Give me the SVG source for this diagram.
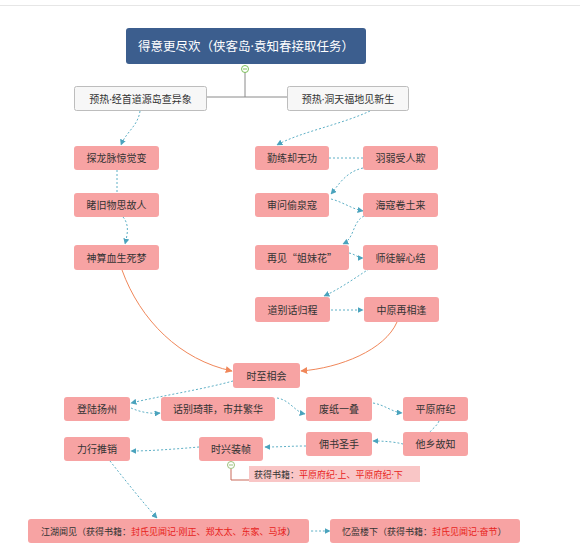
<svg xmlns="http://www.w3.org/2000/svg" width="580" height="547" viewBox="0 0 580 547">
<defs>
<style>
text{font-family:"Noto Sans","Noto Sans CJK SC","Microsoft YaHei",sans-serif;}
.cjk{font-family:"Noto Sans CJK SC","Microsoft YaHei",sans-serif;}
.pk rect{fill:#f7a3a3;}
.pk text{font-size:10px;fill:#333;text-anchor:middle;dominant-baseline:central;}
.sub rect{fill:#f7f7f7;stroke:#bdbdbd;stroke-width:1;}
.sub text{font-size:10px;fill:#333;text-anchor:middle;dominant-baseline:central;}
.dt{fill:none;stroke:#5fb0c6;stroke-width:1;stroke-dasharray:2 2;}
.dta{fill:none;stroke:#5fb0c6;stroke-width:1;stroke-dasharray:2 2;marker-end:url(#ta);}
.or{fill:none;stroke:#f0875a;stroke-width:1;marker-end:url(#oa);}
.red{fill:#e8241c;}
</style>
<marker id="ta" viewBox="0 0 10 10" refX="9" refY="5" markerWidth="6" markerHeight="6" orient="auto" markerUnits="userSpaceOnUse"><path d="M0,0 L10,5 L0,10 z" fill="#4aa3bd"/></marker>
<marker id="oa" viewBox="0 0 10 10" refX="9" refY="5" markerWidth="7" markerHeight="7" orient="auto" markerUnits="userSpaceOnUse"><path d="M0,0 L10,5 L0,10 z" fill="#f0875a"/></marker>
</defs>
<rect x="0" y="0" width="580" height="547" fill="#fff"/>
<line x1="0" y1="5.5" x2="580" y2="5.5" stroke="#e6e6e6" stroke-width="1"/>

<g id="connectors">
<path d="M245,69 V97 M207,97 H287" fill="none" stroke="#8a8a8a" stroke-width="1"/>
<path class="dta" d="M140,111 C138,126 126,132 121,145"/>
<path class="dt" d="M117,170 V193"/>
<path class="dta" d="M123,217 C130,225 127,236 125,244"/>
<path class="dta" d="M370,111 C340,125 300,132 277,145"/>
<path class="dt" d="M329,158 H363"/>
<path class="dta" d="M363,168 C345,172 338,186 331,194"/>
<path class="dta" d="M331,199 C343,202 352,209 363,211"/>
<path class="dta" d="M364,216 C352,222 355,238 343,244"/>
<path class="dta" d="M349,253 C355,254 358,258 363,258"/>
<path class="dta" d="M369,269 C355,278 338,290 324,296"/>
<path class="dta" d="M331,310 H363"/>
<path class="or" d="M397,322 C385,350 340,368 301,371"/>
<path class="or" d="M122,270 C140,320 180,360 232,371"/>
<path class="dta" d="M233,381 C200,390 160,396 131,403"/>
<path class="dta" d="M131,408 C140,412 150,414 160,413"/>
<path class="dta" d="M277,398 C290,400 295,412 305,414"/>
<path class="dta" d="M373,403 C385,405 392,412 402,413"/>
<path class="dt" d="M439,421 C437,426 432,429 430,432"/>
<path class="dta" d="M403,444 C395,442 385,441 373,441"/>
<path class="dta" d="M306,446 C292,446 280,447 265,447"/>
<path class="dta" d="M199,447 C176,449 150,451 131,451"/>
<path class="dta" d="M110,461 C125,480 145,505 157,518"/>
<path class="dta" d="M311,531 C318,531 323,531 330,531"/>
<path d="M231,469 V480 H249" fill="none" stroke="#c96a5a" stroke-width="1"/>
</g>

<g id="root">
<rect x="126" y="28" width="240" height="36" rx="3" fill="#3c5e8e"/>
<text x="246" y="46" font-size="12.5" fill="#fff" text-anchor="middle" dominant-baseline="central">得意更尽欢（侠客岛·袁知春接取任务）</text>
</g>
<g id="root-toggle">
<circle cx="245" cy="69" r="3.5" fill="#fff" stroke="#7cbf5a" stroke-width="1"/>
<line x1="243" y1="69" x2="247" y2="69" stroke="#7cbf5a" stroke-width="1"/>
</g>

<g id="sub1" class="sub"><rect x="74.5" y="86.5" width="132" height="24" rx="2"/><text x="140.5" y="98.5">预热·经首道源岛查异象</text></g>
<g id="sub2" class="sub"><rect x="287.5" y="86.5" width="121" height="24" rx="2"/><text x="348" y="98.5">预热·洞天福地见新生</text></g>

<g id="n1" class="pk"><rect x="74" y="146" width="85" height="24" rx="3"/><text x="116.5" y="158">探龙脉惊觉变</text></g>
<g id="n2" class="pk"><rect x="74" y="193" width="85" height="24" rx="3"/><text x="116.5" y="205">睹旧物思故人</text></g>
<g id="n3" class="pk"><rect x="74" y="245" width="85" height="25" rx="3"/><text x="116.5" y="257.5">神算血生死梦</text></g>

<g id="n4" class="pk"><rect x="255" y="146" width="74" height="24" rx="3"/><text x="292" y="158">勤练却无功</text></g>
<g id="n5" class="pk"><rect x="363" y="146" width="75" height="24" rx="3"/><text x="400.5" y="158">羽弱受人欺</text></g>
<g id="n6" class="pk"><rect x="255" y="193" width="74" height="24" rx="3"/><text x="292" y="205">审问偷泉寇</text></g>
<g id="n7" class="pk"><rect x="363" y="193" width="75" height="24" rx="3"/><text x="400.5" y="205">海寇卷土来</text></g>
<g id="n8" class="pk"><rect x="255" y="245" width="94" height="25" rx="3"/><text class="cjk" x="302" y="257.5">再见“姐妹花”</text></g>
<g id="n9" class="pk"><rect x="363" y="245" width="75" height="25" rx="3"/><text x="400.5" y="257.5">师徒解心结</text></g>
<g id="n10" class="pk"><rect x="255" y="297" width="75" height="25" rx="3"/><text x="292.5" y="309.5">道别话归程</text></g>
<g id="n11" class="pk"><rect x="364" y="297" width="75" height="25" rx="3"/><text x="401.5" y="309.5">中原再相逢</text></g>

<g id="n12" class="pk"><rect x="233" y="363" width="67" height="25" rx="3"/><text x="266.5" y="375.5">时至相会</text></g>

<g id="n13" class="pk"><rect x="64" y="397" width="66" height="24" rx="3"/><text x="97" y="409">登陆扬州</text></g>
<g id="n14" class="pk"><rect x="161" y="397" width="114" height="24" rx="3"/><text x="218" y="409">话别琦菲，市井繁华</text></g>
<g id="n15" class="pk"><rect x="306" y="397" width="66" height="24" rx="3"/><text x="339" y="409">废纸一叠</text></g>
<g id="n16" class="pk"><rect x="403" y="397" width="65" height="24" rx="3"/><text x="435.5" y="409">平原府纪</text></g>
<g id="n17" class="pk"><rect x="403" y="432" width="65" height="24" rx="3"/><text x="435.5" y="444">他乡故知</text></g>
<g id="n18" class="pk"><rect x="306" y="432" width="66" height="24" rx="3"/><text x="339" y="444">佣书圣手</text></g>
<g id="n19" class="pk"><rect x="199" y="437" width="64" height="24" rx="3"/><text x="231" y="449">时兴装帧</text></g>
<g id="n20" class="pk"><rect x="64" y="437" width="66" height="24" rx="3"/><text x="97" y="449">力行推销</text></g>

<g id="n19-toggle">
<circle cx="231" cy="465" r="3.5" fill="#fff" stroke="#9cc07a" stroke-width="1"/>
<line x1="229" y1="465" x2="233" y2="465" stroke="#9cc07a" stroke-width="1"/>
</g>
<g id="n19-label">
<rect x="249" y="466" width="171" height="16" fill="#f9c6c6"/>
<text x="254" y="474" font-size="9" dominant-baseline="central" fill="#333">获得书籍：<tspan class="red">平原府纪·上、平原府纪·下</tspan></text>
</g>

<g id="n21" class="pk"><rect x="28" y="519" width="281" height="24" rx="3"/><text x="41" y="531" style="text-anchor:start;font-size:9px">江湖闻见（获得书籍：<tspan class="red">封氏见闻记·刚正、郑太太、东家、马球</tspan>）</text></g>
<g id="n22" class="pk"><rect x="330" y="519" width="190" height="24" rx="3"/><text x="342" y="531" style="text-anchor:start;font-size:9px">忆盈楼下（获得书籍：<tspan class="red">封氏见闻记·奋节</tspan>）</text></g>
</svg>
